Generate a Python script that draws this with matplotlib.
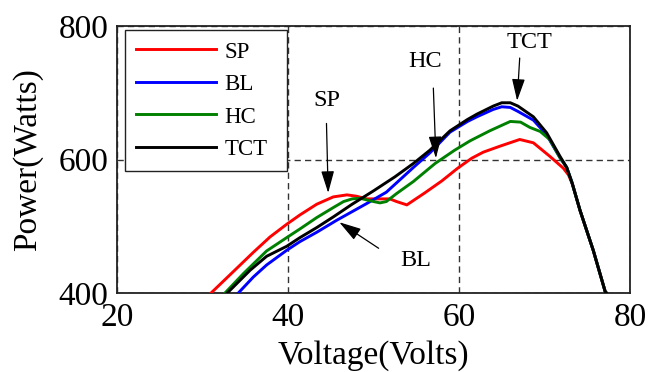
import matplotlib
matplotlib.use("Agg")
import matplotlib.pyplot as plt

plt.rcParams['font.family'] = ['Liberation Serif', 'DejaVu Serif']

# P-V characteristics of the four array configurations
sp_v = [31.0, 33.6, 35.95, 37.9, 39.85, 41.4, 43.36, 45.3, 46.9, 48.0, 49.2, 51.9, 52.7, 53.9,
        56.0, 58.0, 59.85, 61.5, 62.84, 64.8, 67.1, 68.7, 70.6, 72.2, 72.8, 73.3, 74.15, 75.7, 77.1, 77.25]
sp_p = [400, 432, 461, 484, 503, 517, 533, 544, 547, 545, 541, 541, 537, 532,
        550, 568, 587, 602, 611, 620, 630, 625, 605, 587, 577, 562, 524, 464, 402, 400]

bl_v = [34.19, 35.95, 37.5, 39.85, 41.4, 43.36, 45.7, 49.2, 51.5, 54.66, 56.6, 58.95, 61.0, 62.1,
        64.0, 65.0, 66.0, 66.9, 68.7, 70.25, 71.8, 72.6, 73.2, 74.15, 75.7, 77.1, 77.25]
bl_p = [400, 424, 442, 464, 477, 491, 509, 534, 551, 588, 610, 641, 657, 664,
        675, 679, 678, 672, 659, 637, 603, 588, 566, 524, 464, 402, 400]

hc_v = [32.63, 34.78, 37.5, 39.85, 41.4, 43.36, 45.3, 46.5, 47.5, 48.4, 50.0, 50.76, 51.5, 52.7,
        54.66, 57.2, 59.5, 61.3, 63.6, 66.0, 67.2, 68.3, 69.5, 70.6, 71.8, 72.6, 73.2, 74.15, 75.7, 77.1, 77.25]
hc_p = [400, 429, 463, 483, 496, 513, 528, 537, 541, 542, 537, 535, 537, 549,
        567, 594, 614, 628, 643, 657, 656, 648, 642, 630, 603, 588, 566, 524, 464, 402, 400]

tct_v = [32.9, 35.56, 37.5, 39.85, 41.4, 43.36, 45.3, 47.5, 50.0, 52.5, 54.66, 56.6, 58.95, 61.0,
         62.1, 64.0, 65.0, 66.0, 66.9, 68.7, 70.25, 71.8, 72.6, 73.2, 74.15, 75.7, 77.1, 77.25]
tct_p = [400, 434, 455, 470, 483, 498, 514, 533, 553, 574, 594, 614, 643, 660,
         668, 680, 685, 685, 680, 664, 640, 605, 588, 566, 524, 464, 402, 400]

labels = ['SP', 'BL', 'HC', 'TCT']
colors = ['#ff0000', '#0000ff', '#008000', '#000000']
x_ticks = [20, 40, 60, 80]
y_ticks = [400, 600, 800]

fig = plt.figure(figsize=(6.48, 3.72), dpi=100)
ax = fig.add_axes([117 / 648, 1 - 293 / 372, 513 / 648, 267 / 372])

series = [(sp_v, sp_p), (bl_v, bl_p), (hc_v, hc_p), (tct_v, tct_p)]
for (v, p), lab, col in zip(series, labels, colors):
    ax.plot(v, p, color=col, lw=2.1, label=lab, zorder=3)

ax.set_xlim(20, 80)
ax.set_ylim(400, 800)
ax.set_xticks(x_ticks)
ax.set_yticks(y_ticks)
ax.tick_params(length=0, labelsize=24, pad=6)
ax.tick_params(axis='x', pad=7)
for s in ax.spines.values():
    s.set_linewidth(1.3)
    s.set_color('#222222')

ax.grid(True, color='#333333', lw=1.0, linestyle=(0, (4.5, 3)))
for gl in ax.get_xgridlines() + ax.get_ygridlines():
    gl.set_zorder(1)

fig.text(373 / 648, 1 - 364 / 372, 'Voltage(Volts)', fontsize=24,
         ha='center', va='baseline')
fig.text(28 / 648, 1 - 159.5 / 372, 'Power(Watts)', fontsize=24,
         ha='center', va='center', rotation=90)

leg = ax.legend(loc='upper left', bbox_to_anchor=(0.0156, 0.985, 0.3154, 0.0),
                mode='expand', borderaxespad=0, fontsize=16.5, handlelength=3.45,
                handletextpad=0.4, labelspacing=0.5, borderpad=0.5,
                fancybox=False, framealpha=1, edgecolor='#222222')
leg.get_frame().set_linewidth(1.0)
leg.set_zorder(5)

arrow_kw = dict(arrowstyle='-|>,head_length=1.35,head_width=0.4', color='black',
                lw=0.9, mutation_scale=10, shrinkA=0, shrinkB=0)

def callout(text, text_xy, start, tip):
    ax.text(text_xy[0], text_xy[1], text, fontsize=17.5, ha='center', va='center', zorder=6)
    ax.annotate('', xy=tip, xytext=start, arrowprops=arrow_kw, zorder=6)

callout('SP', (44.5, 689), (44.5, 654), (44.7, 550))
callout('HC', (56.0, 747), (57.0, 707), (57.3, 602))
callout('TCT', (68.3, 776), (67.1, 752), (66.8, 688))
callout('BL', (55.0, 449), (50.6, 467), (46.0, 506))

fig.savefig('out.png', dpi=100)
